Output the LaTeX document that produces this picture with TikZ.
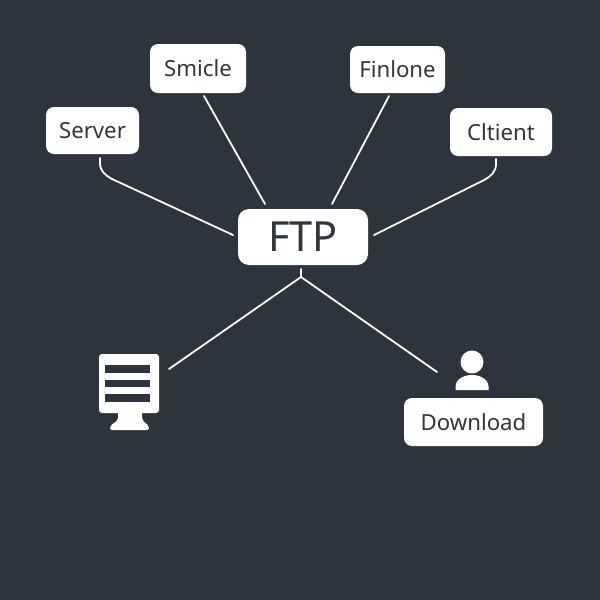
\documentclass[tikz,border=0pt]{standalone}
\usepackage{fontspec}
\setmainfont{Noto Sans}
\definecolor{bgdark}{HTML}{2E343D}
\definecolor{boxtext}{HTML}{30363E}
\tikzset{
  box/.style={fill=white,text=boxtext,rounded corners=8pt,inner sep=0pt,font=\fontsize{22.2}{24}\selectfont},
  link/.style={draw=white,line width=1.8pt,line cap=round,line join=round},
}
\begin{document}
\begin{tikzpicture}[x=1pt,y=-1pt]
\fill[bgdark](0,0)rectangle(600,600);
\useasboundingbox(0,0)rectangle(600,600);
%
\node[box,minimum width=93pt,minimum height=47pt](server)at(92.5,130.5){Server};
\node[box,minimum width=96pt,minimum height=49pt](smicle)at(198,68.5){Smicle};
\node[box,minimum width=95pt,minimum height=47pt](finlone)at(397.5,69.5){Finlone};
\node[box,minimum width=102pt,minimum height=48pt](cltient)at(501,132){Cltient};
\node[box,minimum width=130pt,minimum height=56pt,rounded corners=11pt,font=\fontsize{41.5}{44}\selectfont](ftp)at(303,237){FTP};
\node[box,minimum width=139pt,minimum height=48pt](download)at(473.5,422){Download};
%
\coordinate(serverOut)at(100,158);
\coordinate(smicleOut)at(204,96);
\coordinate(finloneOut)at(389,96);
\coordinate(cltientOut)at(496,159);
\coordinate(ftpLeft)at(233,235);
\coordinate(ftpRight)at(374,235);
\coordinate(ftpTopL)at(265,204);
\coordinate(ftpTopR)at(332,204);
\coordinate(ftpOut)at(301,269);
\coordinate(fork)at(301,277);
\coordinate(monitorIn)at(169,369);
\coordinate(userIn)at(437,372);
%
\draw[link](serverOut)--++(0,5).. controls (100,171) and (105,175) .. (112,179)--(ftpLeft);
\draw[link](smicleOut)--(ftpTopL);
\draw[link](finloneOut)--(ftpTopR);
\draw[link](cltientOut)--++(0,5).. controls (496,172) and (491,176) .. (484,180)--(ftpRight);
\draw[link](ftpOut)--(fork)--(monitorIn);
\draw[link](fork)--(userIn);
%
% monitor
\fill[white,rounded corners=3pt](99,354)rectangle(159,413);
\fill[bgdark](105,365)rectangle(150,373);
\fill[bgdark](105,379.5)rectangle(150,387);
\fill[bgdark](105,394)rectangle(150,402);
\fill[white,rounded corners=2pt](118,410)--(142,410)--(142,420)--(149,426)--(149,430)--(110,430)--(110,426)--(118,420)--cycle;
%
% user
\fill[white](472,362)circle(11.5);
\fill[white](455.5,390)--(455.5,386).. controls (455.5,380) and (463,375) .. (472,375).. controls (481,375) and (488.5,380) .. (488.5,386)--(488.5,390)--cycle;
\end{tikzpicture}
\end{document}
